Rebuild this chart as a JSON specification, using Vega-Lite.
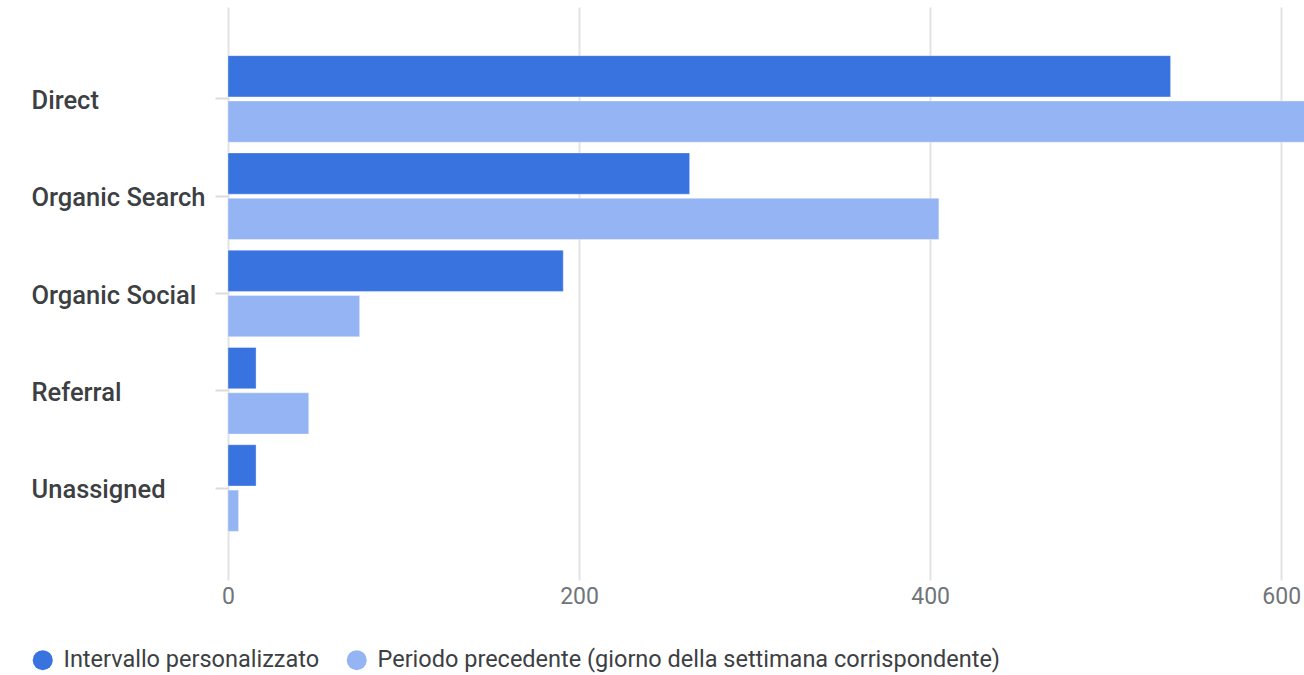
{
  "$schema": "https://vega.github.io/schema/vega-lite/v6.json",
  "width": 1076,
  "height": 573,
  "autosize": {"type": "none"},
  "padding": {"left": 228, "top": 7, "right": 0, "bottom": 95},
  "background": "#ffffff",
  "config": {
    "view": {"stroke": null},
    "font": "Roboto"
  },
  "data": {
    "values": [
      {"canale": "Direct", "serie": "Intervallo personalizzato", "valore": 537},
      {"canale": "Direct", "serie": "Periodo precedente (giorno della settimana corrispondente)", "valore": 625},
      {"canale": "Organic Search", "serie": "Intervallo personalizzato", "valore": 263},
      {"canale": "Organic Search", "serie": "Periodo precedente (giorno della settimana corrispondente)", "valore": 405},
      {"canale": "Organic Social", "serie": "Intervallo personalizzato", "valore": 191},
      {"canale": "Organic Social", "serie": "Periodo precedente (giorno della settimana corrispondente)", "valore": 75},
      {"canale": "Referral", "serie": "Intervallo personalizzato", "valore": 16},
      {"canale": "Referral", "serie": "Periodo precedente (giorno della settimana corrispondente)", "valore": 46},
      {"canale": "Unassigned", "serie": "Intervallo personalizzato", "valore": 16},
      {"canale": "Unassigned", "serie": "Periodo precedente (giorno della settimana corrispondente)", "valore": 6}
    ]
  },
  "mark": {"type": "bar", "clip": true, "strokeWidth": 1, "strokeOpacity": 0.35, "stroke": "#ffffff"},
  "encoding": {
    "y": {
      "field": "canale",
      "type": "nominal",
      "sort": null,
      "scale": {"paddingInner": 0.11, "paddingOuter": 0.5},
      "axis": {
        "title": null,
        "domain": false,
        "ticks": true,
        "tickSize": 13,
        "tickColor": "#dadce0",
        "tickWidth": 2,
        "labelAlign": "left",
        "labelPadding": 184,
        "labelOffset": 2,
        "labelFont": "Roboto",
        "labelFontSize": 25.5,
        "labelFontWeight": 500,
        "labelColor": "#3c4043",
        "labelBaseline": "middle"
      }
    },
    "yOffset": {
      "field": "serie",
      "type": "nominal",
      "scale": {"paddingInner": 0.09}
    },
    "x": {
      "field": "valore",
      "type": "quantitative",
      "scale": {"domain": [0, 613], "nice": false, "zero": true},
      "axis": {
        "title": null,
        "values": [0, 200, 400, 600],
        "domain": false,
        "ticks": false,
        "grid": true,
        "gridColor": "#e3e3e3",
        "gridWidth": 2,
        "labelPadding": 5,
        "labelFont": "Roboto",
        "labelFontSize": 23,
        "labelColor": "#70757a",
        "labelFlush": false
      }
    },
    "color": {
      "field": "serie",
      "type": "nominal",
      "scale": {
        "domain": ["Intervallo personalizzato", "Periodo precedente (giorno della settimana corrispondente)"],
        "range": ["#3873e0", "#94b4f3"]
      },
      "legend": {
        "title": null,
        "orient": "none",
        "legendX": -197,
        "legendY": 641,
        "direction": "horizontal",
        "symbolType": "circle",
        "symbolSize": 400,
        "symbolStrokeWidth": 0,
        "labelFont": "Roboto",
        "labelFontSize": 23.5,
        "labelColor": "#3c4043",
        "labelOffset": 9,
        "columnPadding": 25,
        "padding": 0,
        "labelLimit": 0
      }
    }
  }
}
